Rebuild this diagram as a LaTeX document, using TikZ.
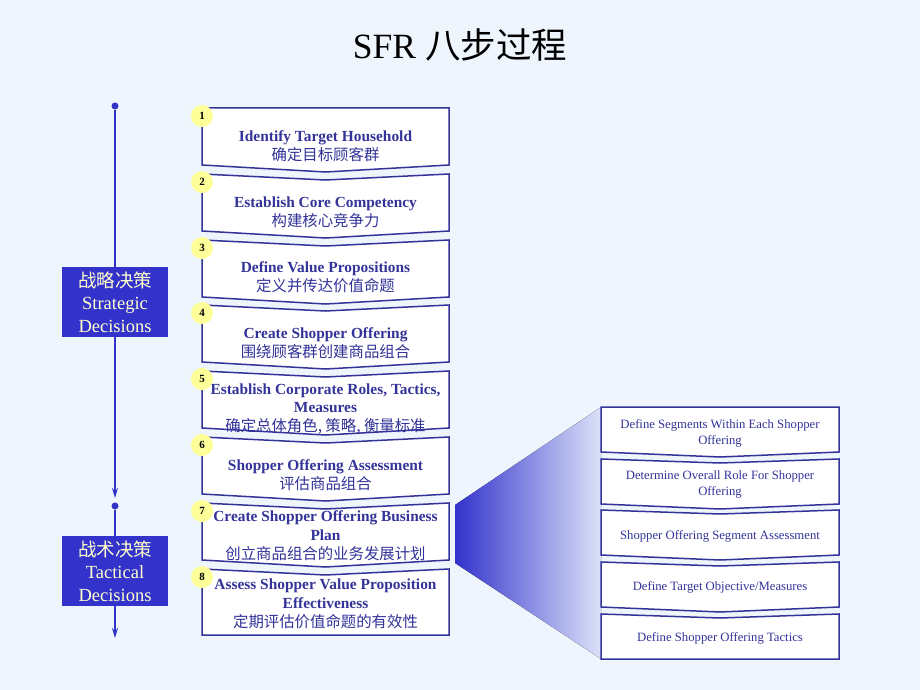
\documentclass[tikz,border=0pt]{standalone}
\usepackage{fontspec}
\setmainfont{Liberation Serif}
\newfontfamily\cjk{Noto Sans CJK SC}
\usetikzlibrary{arrows.meta}
\definecolor{bgblue}{RGB}{238,245,253}
\definecolor{navy}{RGB}{51,51,153}
\definecolor{royal}{RGB}{51,51,204}
\definecolor{cream}{RGB}{255,255,204}
\definecolor{badgeyellow}{RGB}{255,255,153}
% chevron: x1, x2, top, side height, top notch, bottom notch
\newcommand{\chevronbox}[6]{%
  \pgfmathsetmacro\chmid{(#1+#2)/2}%
  \pgfmathsetmacro\chnotch{#3+#5}%
  \pgfmathsetmacro\chside{#3+#4}%
  \pgfmathsetmacro\chtip{#3+#4+#6}%
  \path[boxline] (#1,#3) -- (\chmid,\chnotch) -- (#2,#3) -- (#2,\chside) -- (\chmid,\chtip) -- (#1,\chside) -- cycle;%
}

\begin{document}
\begin{tikzpicture}
    [x=1pt, y=-1pt,
    boxline/.style={draw=navy, line width=1.5pt, fill=white, line join=miter},
    steptext/.style={text=navy, align=center, font=\fontsize{15.4}{18.8}\selectfont},
    subtext/.style={text=navy, align=center, font=\fontsize{12.7}{16}\selectfont},
    badge/.style={circle, fill=badgeyellow, minimum size=22pt, inner sep=0pt,
        font=\fontsize{11}{11}\selectfont\bfseries},
    phase/.style={fill=royal, text=cream, align=center, minimum width=106pt,
        minimum height=70pt, inner sep=0pt, font=\fontsize{18.5}{22.5}\selectfont},
    blob/.style={circle, fill=royal, minimum size=7pt, inner sep=0pt},
    flow/.style={draw=royal, line width=2pt, -{Stealth[length=10pt,width=6pt]}}]

\useasboundingbox (0,0) rectangle (920,690);
\fill[bgblue] (0,0) rectangle (920,690);

\node[font=\fontsize{35.5}{40}\selectfont] (title) at (460,45) {SFR {\cjk 八步过程}};

% the eight steps
\chevronbox{202}{449}{108}{57}{0}{7}
\chevronbox{202}{449}{174}{57}{6}{7}
\chevronbox{202}{449}{240}{57}{6}{7}
\chevronbox{202}{449}{305}{57}{6}{7}
\chevronbox{202}{449}{371}{57}{6}{7}
\chevronbox{202}{449}{437}{57}{6}{7}
\chevronbox{202}{449}{503}{57}{6}{7}
\chevronbox{202}{449}{569}{66}{6}{0}

\node[steptext] (step1) at (325.5,146) {\textbf{Identify Target Household}\\{\cjk 确定目标顾客群}};
\node[steptext] (step2) at (325.5,212) {\textbf{Establish Core Competency}\\{\cjk 构建核心竞争力}};
\node[steptext] (step3) at (325.5,277.5) {\textbf{Define Value Propositions}\\{\cjk 定义并传达价值命题}};
\node[steptext] (step4) at (325.5,343) {\textbf{Create Shopper Offering}\\{\cjk 围绕顾客群创建商品组合}};
\node[steptext] (step5) at (325.5,409) {\textbf{Establish Corporate Roles, Tactics,}\\\textbf{Measures}\\{\cjk 确定总体角色, 策略, 衡量标准}};
\node[steptext] (step6) at (325.5,475) {\textbf{Shopper Offering Assessment}\\{\cjk 评估商品组合}};
\node[steptext] (step7) at (325.5,536) {\textbf{Create Shopper Offering Business}\\\textbf{Plan}\\{\cjk 创立商品组合的业务发展计划}};
\node[steptext] (step8) at (325.5,604) {\textbf{Assess Shopper Value Proposition}\\\textbf{Effectiveness}\\{\cjk 定期评估价值命题的有效性}};

\foreach \i/\y in {1/108, 2/174, 3/240, 4/305, 5/371, 6/437, 7/503, 8/569}
    \node[badge] (num\i) at (202,\y+8) {\i};

% timeline
\node[phase] (strategic) at (115,302) {{\cjk 战略决策}\\Strategic\\Decisions};
\node[phase] (tactical) at (115,571) {{\cjk 战术决策}\\Tactical\\Decisions};
\node[blob] (start1) at (115,106) {};
\node[blob] (start2) at (115,506) {};
\coordinate (end1) at (115,498);
\coordinate (end2) at (115,638);
\draw[draw=royal, line width=2pt] (start1) -- (strategic.north);
\draw[flow] (strategic.south) -- (end1);
\draw[draw=royal, line width=2pt] (start2) -- (tactical.north);
\draw[flow] (tactical.south) -- (end2);

% fan from step 7
\fill[left color=royal, right color=royal!10!bgblue]
    (455,505) -- (601,407) -- (601,659) -- (455,563) -- cycle;

% sub steps of step 7
\chevronbox{601}{839}{407}{45}{0}{5}
\chevronbox{601}{839}{459}{45}{4}{5}
\chevronbox{601}{839}{510}{45}{4}{5}
\chevronbox{601}{839}{562}{45}{4}{5}
\chevronbox{601}{839}{614}{45}{4}{0}

\node[subtext] (sub1) at (720,433) {Define Segments Within Each Shopper\\Offering};
\node[subtext] (sub2) at (720,484) {Determine Overall Role For Shopper\\Offering};
\node[subtext] (sub3) at (720,536) {Shopper Offering Segment Assessment};
\node[subtext] (sub4) at (720,587) {Define Target Objective/Measures};
\node[subtext] (sub5) at (720,638) {Define Shopper Offering Tactics};
\end{tikzpicture}
\end{document}
